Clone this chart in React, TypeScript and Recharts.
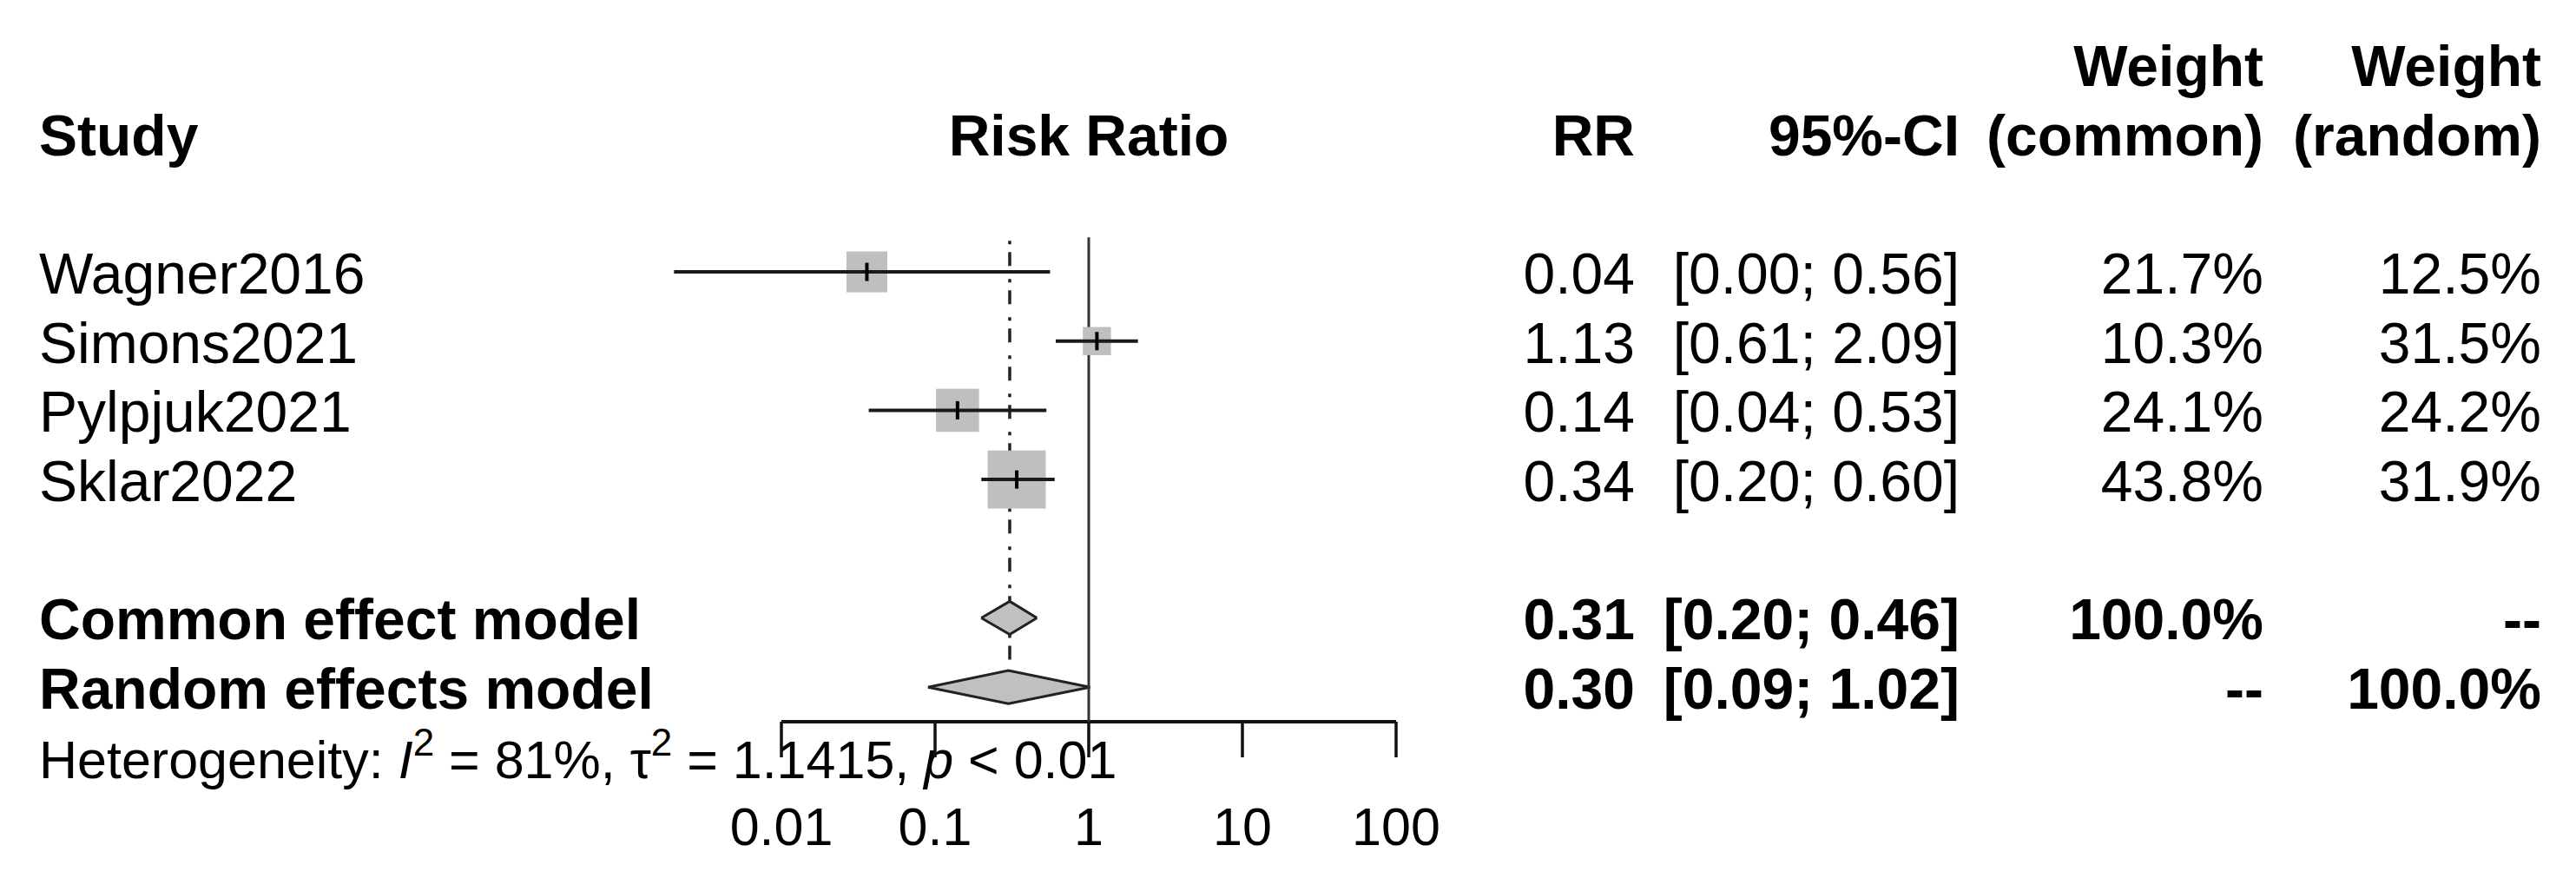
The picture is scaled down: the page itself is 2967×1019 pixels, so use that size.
import {
  Area,
  ComposedChart,
  Customized,
  ReferenceLine,
  Scatter,
  XAxis,
  YAxis,
} from "recharts";

// study rows
const studies = ["Wagner2016", "Simons2021", "Pylpjuk2021", "Sklar2022"];
const rr = [0.036, 1.13, 0.14, 0.34];
const ciLower = [0.002, 0.61, 0.037, 0.2];
const ciUpper = [0.56, 2.09, 0.53, 0.6];
const weightCommon = [21.7, 10.3, 24.1, 43.8];
const weightRandom = [12.5, 31.5, 24.2, 31.9];

// pooled rows
const summaryLabels = ["Common effect model", "Random effects model"];
const summaryRR = [0.306, 0.3];
const summaryLower = [0.2, 0.09];
const summaryUpper = [0.46, 1.02];
const summaryWeightCommon = ["100.0%", "--"];
const summaryWeightRandom = ["--", "100.0%"];

const axisTicks = [0.01, 0.1, 1, 10, 100];
const hetI2 = "81%";
const hetTau2 = "1.1415";
const hetP = "< 0.01";

// layout
const W = 2967;
const H = 1019;
const TOP = 74;
const XAXIS_H = 188;
const LEFT = 723;
const RIGHT = 1182;
const Y_MIN = -3;
const Y_MAX = 6.5;
const PLOT_H = H - TOP - XAXIS_H;
const FONT = '"Liberation Sans", Arial, Helvetica, sans-serif';
const FS = 66;
const FS_SMALL = 61;
const COL = { study: 45, center: 1254, rr: 1883, ci: 2257, wc: 2607, wr: 2927 };
const SUMMARY_ROW = [5, 6];
const DIAMOND_H = 0.24;
const LINE_TOP = -0.5;

const rowY = (k: number) => TOP + ((k - Y_MIN) / (Y_MAX - Y_MIN)) * PLOT_H;
const base = (k: number) => rowY(k) + 25;
const f2 = (v: number) => v.toFixed(2);
const ci = (lo: number, hi: number) => `[${f2(lo)}; ${f2(hi)}]`;
const pct = (v: number) => `${v.toFixed(1)}%`;

const squares = studies.map((s, i) => ({ x: rr[i], y: i, w: weightCommon[i], name: s }));

// dotted common-effect line, interrupted by the common diamond
const dashSegments = [
  [LINE_TOP + 0.05, SUMMARY_ROW[0] - DIAMOND_H],
  [SUMMARY_ROW[0] + DIAMOND_H, SUMMARY_ROW[1] - DIAMOND_H],
];

function SquareShape(props: any) {
  const { cx, cy, payload } = props;
  const s = 10.1 * Math.sqrt(payload.w);
  return <rect x={cx - s / 2} y={cy - s / 2} width={s} height={s} fill="#bfbfbf" />;
}

function CenterTick(props: any) {
  const { cx, cy } = props;
  return <line x1={cx} x2={cx} y1={cy - 10.5} y2={cy + 10.5} stroke="#000" strokeWidth={4} />;
}

const NoShape = () => <g />;

function AxisTick(props: any) {
  const { x, payload } = props;
  return (
    <text x={x} y={973} textAnchor="middle" fontFamily={FONT} fontSize={FS_SMALL} fill="#000">
      {String(payload.value)}
    </text>
  );
}

function T(p: { x: number; y: number; a?: "start" | "end" | "middle"; b?: boolean; children: any }) {
  return (
    <text
      x={p.x}
      y={p.y}
      textAnchor={p.a ?? "end"}
      fontFamily={FONT}
      fontSize={FS}
      fontWeight={p.b ? "bold" : "normal"}
      fill="#000"
    >
      {p.children}
    </text>
  );
}

function TableText() {
  return (
    <g>
      <T x={COL.wc} y={base(-3)} b>Weight</T>
      <T x={COL.wr} y={base(-3)} b>Weight</T>
      <T x={COL.study} y={base(-2)} a="start" b>Study</T>
      <T x={COL.center} y={base(-2)} a="middle" b>Risk Ratio</T>
      <T x={COL.rr} y={base(-2)} b>RR</T>
      <T x={COL.ci} y={base(-2)} b>95%-CI</T>
      <T x={COL.wc} y={base(-2)} b>(common)</T>
      <T x={COL.wr} y={base(-2)} b>(random)</T>

      {studies.map((s, i) => (
        <g key={s}>
          <T x={COL.study} y={base(i)} a="start">{s}</T>
          <T x={COL.rr} y={base(i)}>{f2(rr[i])}</T>
          <T x={COL.ci} y={base(i)}>{ci(ciLower[i], ciUpper[i])}</T>
          <T x={COL.wc} y={base(i)}>{pct(weightCommon[i])}</T>
          <T x={COL.wr} y={base(i)}>{pct(weightRandom[i])}</T>
        </g>
      ))}

      {summaryLabels.map((s, i) => (
        <g key={s}>
          <T x={COL.study} y={base(SUMMARY_ROW[i])} a="start" b>{s}</T>
          <T x={COL.rr} y={base(SUMMARY_ROW[i])} b>{f2(summaryRR[i])}</T>
          <T x={COL.ci} y={base(SUMMARY_ROW[i])} b>{ci(summaryLower[i], summaryUpper[i])}</T>
          <T x={COL.wc} y={base(SUMMARY_ROW[i])} b>{summaryWeightCommon[i]}</T>
          <T x={COL.wr} y={base(SUMMARY_ROW[i])} b>{summaryWeightRandom[i]}</T>
        </g>
      ))}

      <text x={COL.study} y={base(7)} fontFamily={FONT} fontSize={FS_SMALL} fill="#000">
        {"Heterogeneity: "}
        <tspan fontStyle="italic">I</tspan>
        <tspan dy={-26} fontSize={44}>2</tspan>
        <tspan dy={26}>{` = ${hetI2}, \u03c4`}</tspan>
        <tspan dy={-26} fontSize={44}>2</tspan>
        <tspan dy={26}>{` = ${hetTau2}, `}</tspan>
        <tspan fontStyle="italic">p</tspan>
        <tspan>{` ${hetP}`}</tspan>
      </text>
    </g>
  );
}

export default function App() {
  return (
    <div style={{ position: "absolute", left: 0, top: 0, background: "#fff" }}>
      <ComposedChart
        width={W}
        height={H}
        margin={{ top: TOP, right: RIGHT, bottom: 0, left: LEFT }}
      >
        <XAxis
          type="number"
          dataKey="x"
          scale="log"
          domain={[0.001, 1000]}
          allowDataOverflow
          ticks={axisTicks}
          interval={0}
          axisLine={false}
          tickSize={41}
          tickLine={{ stroke: "#111", strokeWidth: 3.5 }}
          tick={<AxisTick />}
          height={XAXIS_H}
        />
        <YAxis type="number" dataKey="y" domain={[Y_MIN, Y_MAX]} reversed hide allowDataOverflow />

        <ReferenceLine
          segment={[{ x: axisTicks[0], y: Y_MAX }, { x: axisTicks[axisTicks.length - 1], y: Y_MAX }]}
          stroke="#111"
          strokeWidth={4}
          ifOverflow="visible"
        />

        {/* line of no effect */}
        <Scatter
          data={[
            { x: 1, y: LINE_TOP },
            { x: 1, y: Y_MAX },
          ]}
          line={{ stroke: "#333", strokeWidth: 3 }}
          lineType="joint"
          shape={<NoShape />}
          isAnimationActive={false}
        />
        {dashSegments.map(([a, b], j) => (
          <Scatter
            key={`dash${j}`}
            data={[
              { x: summaryRR[0], y: a },
              { x: summaryRR[0], y: b },
            ]}
            line={{ stroke: "#222", strokeWidth: 3.5, strokeDasharray: "4 9 16 15" }}
            lineType="joint"
            shape={<NoShape />}
            isAnimationActive={false}
          />
        ))}

        <Scatter data={squares} shape={<SquareShape />} isAnimationActive={false} />

        {studies.map((s, i) => (
          <Scatter
            key={s}
            data={[
              { x: ciLower[i], y: i },
              { x: ciUpper[i], y: i },
            ]}
            line={{ stroke: "#1a1a1a", strokeWidth: 4 }}
            lineType="joint"
            shape={<NoShape />}
            isAnimationActive={false}
          />
        ))}

        <Scatter data={squares} shape={<CenterTick />} isAnimationActive={false} />

        {summaryLabels.map((s, i) => {
          const k = SUMMARY_ROW[i];
          return (
            <Area
              key={s}
              data={[
                { x: summaryLower[i], r: [k, k] },
                { x: summaryRR[i], r: [k - DIAMOND_H, k + DIAMOND_H] },
                { x: summaryUpper[i], r: [k, k] },
              ]}
              dataKey="r"
              type="linear"
              fill="#c0c0c0"
              fillOpacity={1}
              stroke="#222"
              strokeWidth={3}
              dot={false}
              activeDot={false}
              isAnimationActive={false}
            />
          );
        })}

        <Customized component={<TableText />} />
      </ComposedChart>
    </div>
  );
}
